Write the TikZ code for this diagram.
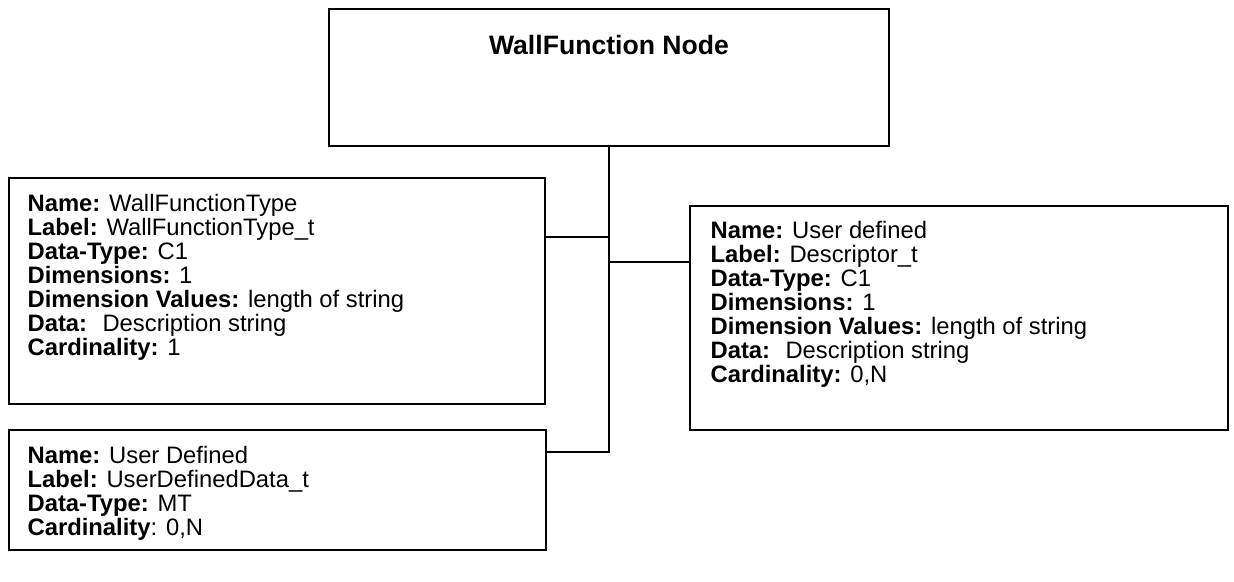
\documentclass[tikz,border=0pt]{standalone}
\usepackage{fontspec}
\setmainfont{Liberation Sans}
\usetikzlibrary{positioning}

\begin{document}
\begin{tikzpicture}[x=0.5pt,y=-0.5pt,
	box/.style={draw,line width=0.8pt,inner sep=0pt},
	info/.style={anchor=north west,align=left,inner sep=0pt,font=\fontsize{11.9}{12}\selectfont},
	link/.style={line width=0.8pt}]
	\useasboundingbox (0,0) rectangle (1234,582);
	% parent node
	\node[box,minimum width=280pt,minimum height=68.5pt] (wfnode) at (609,77.5) {};
	\node[anchor=north,inner sep=0pt,font=\bfseries\fontsize{13.3}{16}\selectfont] (title) at ([yshift=-13.5pt]wfnode.north) {WallFunction Node};
	% children
	\node[box,minimum width=268pt,minimum height=113pt] (wftype) at (277,291) {};
	\node[info] (wftype text) at ([xshift=9.5pt,yshift=-8.5pt]wftype.north west) {\textbf{Name:} WallFunctionType\\
		\textbf{Label:} WallFunctionType\_t\\
		\textbf{Data-Type:} C1\\
		\textbf{Dimensions:} 1\\
		\textbf{Dimension Values:} length of string\\
		\textbf{Data:} \ Description string\\
		\textbf{Cardinality:} 1};
	\node[box,minimum width=268.5pt,minimum height=60pt] (udd) at (277.5,490) {};
	\node[info] (udd text) at ([xshift=9.5pt,yshift=-8.5pt]udd.north west) {\textbf{Name:} User Defined\\
		\textbf{Label:} UserDefinedData\_t\\
		\textbf{Data-Type:} MT\\
		\textbf{Cardinality}: 0,N};
	\node[box,minimum width=269pt,minimum height=112pt] (descr) at (959,318) {};
	\node[info] (descr text) at ([xshift=10.5pt,yshift=-8pt]descr.north west) {\textbf{Name:} User defined\\
		\textbf{Label:} Descriptor\_t\\
		\textbf{Data-Type:} C1\\
		\textbf{Dimensions:} 1\\
		\textbf{Dimension Values:} length of string\\
		\textbf{Data:} \ Description string\\
		\textbf{Cardinality:} 0,N};
	% tree lines
	\coordinate (j1) at (wfnode.south |- 0,237);
	\coordinate (j2) at (wfnode.south |- 0,262);
	\coordinate (j3) at (wfnode.south |- 0,452);
	\draw[link] (wfnode.south) -- (j3) -- (udd.east |- j3);
	\draw[link] (wftype.east |- j1) -- (j1);
	\draw[link] (j2) -- (descr.west |- j2);
\end{tikzpicture}
\end{document}
